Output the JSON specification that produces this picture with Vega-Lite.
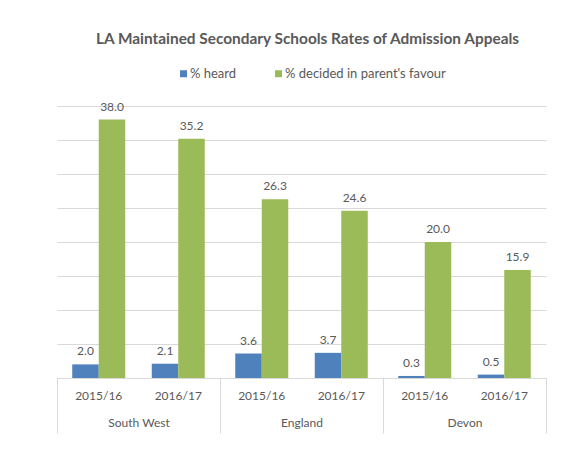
{
  "$schema": "https://vega.github.io/schema/vega-lite/v6.json",
  "width": 489,
  "height": 272,
  "autosize": {"type": "none"},
  "padding": {"left": 57, "top": 106, "right": 34, "bottom": 80},
  "background": "white",
  "title": {
    "text": "LA Maintained Secondary Schools Rates of Admission Appeals",
    "anchor": "middle",
    "dx": 6,
    "offset": 20,
    "font": "Lato",
    "fontSize": 15.4,
    "fontWeight": "bold",
    "color": "#595959"
  },
  "datasets": {
    "bars": [
      {"region": "South West", "year": "2015/16", "series": "% heard", "bar": "2015/16 heard", "value": 2.0},
      {"region": "South West", "year": "2015/16", "series": "% decided in parent's favour", "bar": "2015/16 fav", "value": 38.0},
      {"region": "South West", "year": "2016/17", "series": "% heard", "bar": "2016/17 heard", "value": 2.1},
      {"region": "South West", "year": "2016/17", "series": "% decided in parent's favour", "bar": "2016/17 fav", "value": 35.2},
      {"region": "England", "year": "2015/16", "series": "% heard", "bar": "2015/16 heard", "value": 3.6},
      {"region": "England", "year": "2015/16", "series": "% decided in parent's favour", "bar": "2015/16 fav", "value": 26.3},
      {"region": "England", "year": "2016/17", "series": "% heard", "bar": "2016/17 heard", "value": 3.7},
      {"region": "England", "year": "2016/17", "series": "% decided in parent's favour", "bar": "2016/17 fav", "value": 24.6},
      {"region": "Devon", "year": "2015/16", "series": "% heard", "bar": "2015/16 heard", "value": 0.3},
      {"region": "Devon", "year": "2015/16", "series": "% decided in parent's favour", "bar": "2015/16 fav", "value": 20.0},
      {"region": "Devon", "year": "2016/17", "series": "% heard", "bar": "2016/17 heard", "value": 0.5},
      {"region": "Devon", "year": "2016/17", "series": "% decided in parent's favour", "bar": "2016/17 fav", "value": 15.9}
    ],
    "years": [
      {"region": "South West", "year": "2015/16", "bar": "2015/16 heard"},
      {"region": "South West", "year": "2016/17", "bar": "2016/17 heard"},
      {"region": "England", "year": "2015/16", "bar": "2015/16 heard"},
      {"region": "England", "year": "2016/17", "bar": "2016/17 heard"},
      {"region": "Devon", "year": "2015/16", "bar": "2015/16 heard"},
      {"region": "Devon", "year": "2016/17", "bar": "2016/17 heard"}
    ]
  },
  "encoding": {
    "x": {
      "field": "region",
      "type": "nominal",
      "sort": ["South West", "England", "Devon"],
      "scale": {"paddingInner": 0, "paddingOuter": 0},
      "axis": {
        "title": null,
        "labelAngle": 0,
        "domainColor": "#d9d9d9",
        "tickColor": "#d9d9d9",
        "tickSize": 55,
        "tickBand": "extent",
        "labelPadding": -16,
        "labelFont": "Lato",
        "labelFontSize": 12,
        "labelColor": "#595959"
      }
    },
    "xOffset": {
      "field": "bar",
      "type": "nominal",
      "scale": {
        "domain": ["2015/16 heard", "2015/16 fav", "gap", "2016/17 heard", "2016/17 fav"],
        "paddingInner": 0,
        "paddingOuter": 0.575
      }
    }
  },
  "layer": [
    {
      "data": {"name": "bars"},
      "mark": {"type": "bar"},
      "encoding": {
        "y": {
          "field": "value",
          "type": "quantitative",
          "scale": {"domain": [0, 40], "nice": false},
          "axis": {
            "title": null,
            "labels": false,
            "ticks": false,
            "domain": false,
            "values": [0, 5, 10, 15, 20, 25, 30, 35, 40],
            "tickCount": 12,
            "gridColor": "#d9d9d9",
            "gridWidth": 1
          }
        },
        "color": {
          "field": "series",
          "type": "nominal",
          "scale": {
            "domain": ["% heard", "% decided in parent's favour"],
            "range": ["#4F81BD", "#9BBB59"]
          },
          "legend": {
            "title": null,
            "orient": "none",
            "direction": "horizontal",
            "legendX": 120,
            "legendY": -39,
            "symbolType": "square",
            "symbolSize": 49,
            "symbolStrokeWidth": 0,
            "labelOffset": 0,
            "columnPadding": 35,
            "labelLimit": 400,
            "labelFont": "Lato",
            "labelFontSize": 13,
            "labelColor": "#595959"
          }
        }
      }
    },
    {
      "data": {"name": "bars"},
      "mark": {"type": "text", "baseline": "middle", "dy": -13, "font": "Lato", "fontSize": 12, "color": "#595959"},
      "encoding": {
        "y": {
          "field": "value",
          "type": "quantitative",
          "axis": {
            "title": null,
            "labels": false,
            "ticks": false,
            "domain": false,
            "values": [0, 5, 10, 15, 20, 25, 30, 35, 40],
            "tickCount": 12,
            "gridColor": "#d9d9d9",
            "gridWidth": 1
          }
        },
        "text": {"field": "value", "type": "quantitative", "format": ".1f"}
      }
    },
    {
      "data": {"name": "years"},
      "mark": {"type": "text", "baseline": "middle", "dx": 13.25, "dy": 18, "font": "Lato", "fontSize": 12, "color": "#595959"},
      "encoding": {
        "y": {
          "datum": 0,
          "axis": {
            "title": null,
            "labels": false,
            "ticks": false,
            "domain": false,
            "values": [0, 5, 10, 15, 20, 25, 30, 35, 40],
            "tickCount": 12,
            "gridColor": "#d9d9d9",
            "gridWidth": 1
          }
        },
        "text": {"field": "year", "type": "nominal"}
      }
    }
  ],
  "config": {
    "view": {"stroke": null}
  }
}
